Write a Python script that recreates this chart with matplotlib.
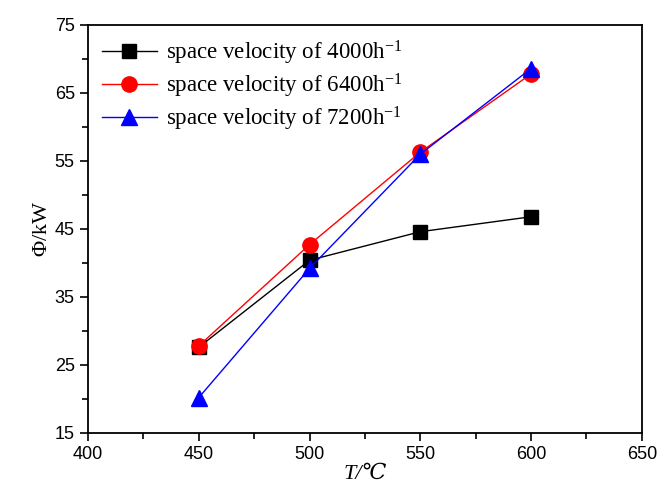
import numpy as np
import matplotlib.pyplot as plt
from matplotlib.ticker import MultipleLocator, FixedLocator

plt.rcParams['mathtext.fontset'] = 'custom'
plt.rcParams['mathtext.rm'] = 'Liberation Serif'
plt.rcParams['mathtext.it'] = 'Liberation Serif:italic'
plt.rcParams['mathtext.fallback'] = 'stix'

# data
temp = [450, 500, 550, 600]
sv4000 = [27.6, 40.4, 44.6, 46.8]
sv6400 = [27.8, 42.7, 56.3, 67.8]
sv7200 = [20.2, 39.2, 56.0, 68.6]
labels = ["space velocity of 4000h$^{-1}$",
          "space velocity of 6400h$^{-1}$",
          "space velocity of 7200h$^{-1}$"]
yticks = [15, 25, 35, 45, 55, 65, 75]

fig = plt.figure(figsize=(6.59, 4.95), dpi=100)
ax = fig.add_axes([0.1335, 0.1253, 0.8405, 0.8242])

ax.plot(temp, sv4000, color="black", marker="s", markersize=10, lw=1, label=labels[0])
ax.plot(temp, sv6400, color="red", marker="o", markersize=11, lw=1, label=labels[1])
ax.plot(temp, sv7200, color="blue", marker="^", markersize=11, lw=1, label=labels[2])

ax.set_xlim(400, 650)
ax.set_ylim(15, 75)
ax.xaxis.set_major_locator(MultipleLocator(50))
ax.xaxis.set_minor_locator(MultipleLocator(25))
ax.yaxis.set_major_locator(FixedLocator(yticks))
ax.yaxis.set_minor_locator(FixedLocator([y + 5 for y in yticks[:-1]]))
ax.tick_params(which="both", direction="out", top=False, right=False, width=1.2)
ax.tick_params(which="major", length=6, labelsize=13)
ax.tick_params(which="minor", length=4)
for s in ax.spines.values():
    s.set_linewidth(1.3)
for t in ax.get_xticklabels() + ax.get_yticklabels():
    t.set_fontfamily("Liberation Sans")

serif = ["Liberation Serif", "DejaVu Serif"]
ax.set_xlabel("T/℃", fontsize=16, family=serif, style="italic", labelpad=1)
ax.set_ylabel(r"$\mathit{\Phi}$/kW", fontsize=16, family=serif, labelpad=2)

leg = ax.legend(loc="upper left", frameon=False, prop={"family": "Liberation Serif", "size": 16.5},
                handlelength=2.4, borderaxespad=0.2, labelspacing=0.2, handletextpad=0.4)

fig.savefig("out.png", dpi=100)
